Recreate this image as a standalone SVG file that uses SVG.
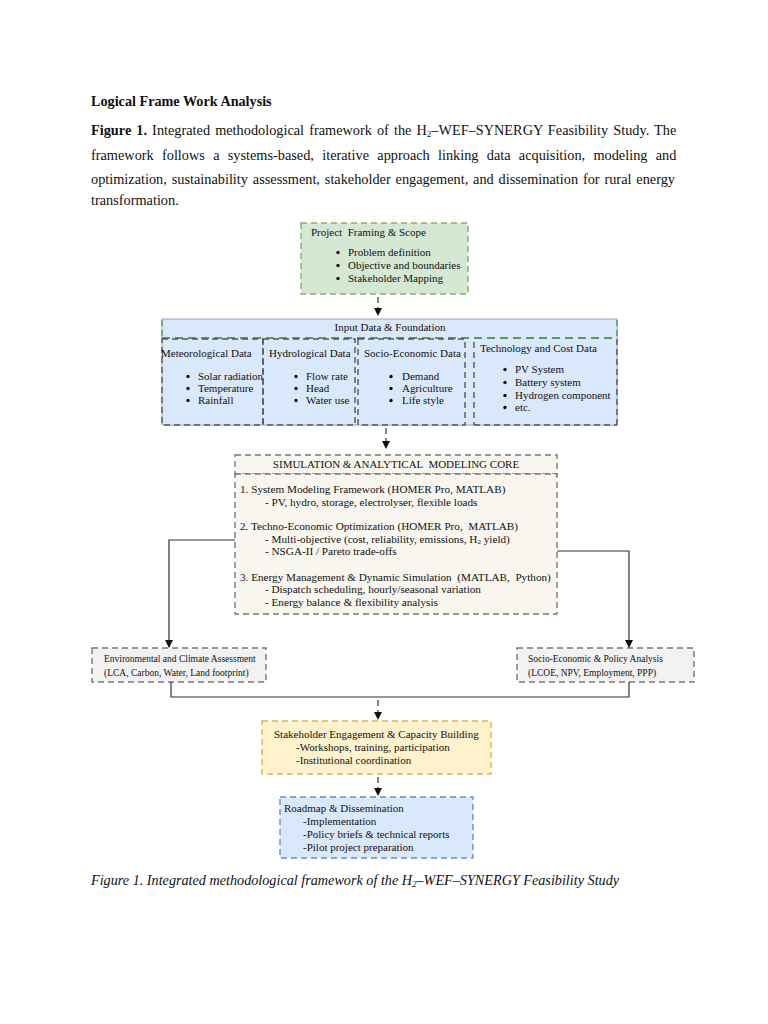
<svg xmlns="http://www.w3.org/2000/svg" width="768" height="1024" viewBox="0 0 768 1024">
<style>
text{font-family:"Liberation Serif","Times New Roman",serif;fill:#111}
.p{font-size:14.3px}
.t{font-size:11px}
.m{font-size:11.2px}
.s{font-size:9.5px}
.bu{fill:#111}
.dash{stroke-dasharray:6 4;stroke-width:1.4}
.g{fill:#d5e8d4;stroke:#82b366}
.b{fill:#dae8fc;stroke:#6c8ebf}
.sub{fill:none;stroke:#555}
.core{fill:#f8f6ee;stroke:#777}
.gray{fill:#f2f2f2;stroke:#777}
.y{fill:#fff2cc;stroke:#d6b656}
.c{fill:none;stroke:#333;stroke-width:1.2}
.cd{fill:none;stroke:#333;stroke-width:1.2;stroke-dasharray:6 4}
</style>
<defs>
<marker id="ah" markerWidth="8" markerHeight="8" refX="7" refY="4" orient="auto" markerUnits="userSpaceOnUse">
<path d="M0,0 L8,4 L0,8 Z" fill="#111"/>
</marker>
</defs>
<rect width="768" height="1024" fill="#fff"/>

<g id="header-text">
<text x="91" y="106" style="font-size:14.2px;font-weight:bold">Logical Frame Work Analysis</text>
<text class="p" x="91" y="135" style="word-spacing:1.5px"><tspan font-weight="bold">Figure 1.</tspan> Integrated methodological framework of the H<tspan font-size="9" dy="2">2</tspan><tspan dy="-2">–WEF–SYNERGY Feasibility Study. The</tspan></text>
<text class="p" x="91" y="160" style="word-spacing:4.7px">framework follows a systems-based, iterative approach linking data acquisition, modeling and</text>
<text class="p" x="91" y="184" style="word-spacing:1.3px">optimization, sustainability assessment, stakeholder engagement, and dissemination for rural energy</text>
<text class="p" x="91" y="205">transformation.</text>
</g>

<g id="project-framing">
<rect class="g dash" x="301" y="223" width="167" height="71"/>
<text class="t" x="311" y="236" xml:space="preserve">Project  Framing &amp; Scope</text>
<circle class="bu" cx="338" cy="252.5" r="1.7"/><text class="t" x="348" y="256">Problem definition</text>
<circle class="bu" cx="338" cy="265.5" r="1.7"/><text class="t" x="348" y="269">Objective and boundaries</text>
<circle class="bu" cx="338" cy="278.5" r="1.7"/><text class="t" x="348" y="282">Stakeholder Mapping</text>
</g>

<g id="input-data">
<rect x="162" y="319" width="455" height="106" fill="#dae8fc" stroke="#8ea9c8" stroke-width="1"/>
<line x1="162" y1="338" x2="617" y2="338" stroke="#5b9a55" stroke-width="2" stroke-dasharray="8 5"/>
<line x1="162" y1="320" x2="162" y2="337" stroke="#5b9a55" stroke-width="1.5" stroke-dasharray="6 4"/>
<line x1="617" y1="320" x2="617" y2="337" stroke="#5b9a55" stroke-width="1.5" stroke-dasharray="6 4"/>
<text class="t" x="390" y="331" text-anchor="middle">Input Data &amp; Foundation</text>
<g id="meteorological">
<rect class="sub dash" x="162" y="339" width="101" height="86"/>
<text class="t" x="161" y="357">Meteorological Data</text>
<circle class="bu" cx="188" cy="376.5" r="1.7"/><text class="t" x="198" y="380">Solar radiation</text>
<circle class="bu" cx="188" cy="388.5" r="1.7"/><text class="t" x="198" y="392">Temperature</text>
<circle class="bu" cx="188" cy="400.5" r="1.7"/><text class="t" x="198" y="404">Rainfall</text>
</g>
<g id="hydrological">
<rect class="sub dash" x="263" y="339" width="92" height="86"/>
<text class="t" x="269" y="357">Hydrological Data</text>
<circle class="bu" cx="296" cy="376.5" r="1.7"/><text class="t" x="306" y="380">Flow rate</text>
<circle class="bu" cx="296" cy="388.5" r="1.7"/><text class="t" x="306" y="392">Head</text>
<circle class="bu" cx="296" cy="400.5" r="1.7"/><text class="t" x="306" y="404">Water use</text>
</g>
<g id="socio-economic-data">
<rect class="sub dash" x="358" y="339" width="107" height="86"/>
<text class="t" x="364" y="357">Socio-Economic Data</text>
<circle class="bu" cx="391" cy="376.5" r="1.7"/><text class="t" x="402" y="380">Demand</text>
<circle class="bu" cx="391" cy="388.5" r="1.7"/><text class="t" x="402" y="392">Agriculture</text>
<circle class="bu" cx="391" cy="400.5" r="1.7"/><text class="t" x="402" y="404">Life style</text>
</g>
<g id="technology-cost">
<line class="sub dash" x1="474" y1="342" x2="474" y2="425"/>
<line class="sub dash" x1="474" y1="425" x2="617" y2="425"/>
<line class="sub dash" x1="617" y1="339" x2="617" y2="425"/>
<text class="t" x="480" y="352">Technology and Cost Data</text>
<circle class="bu" cx="505" cy="369.5" r="1.7"/><text class="t" x="515" y="373">PV System</text>
<circle class="bu" cx="505" cy="382.5" r="1.7"/><text class="t" x="515" y="386">Battery system</text>
<circle class="bu" cx="505" cy="395.5" r="1.7"/><text class="t" x="515" y="399">Hydrogen component</text>
<circle class="bu" cx="505" cy="407.5" r="1.7"/><text class="t" x="515" y="411">etc.</text>
</g>
</g>

<g id="simulation-core">
<rect class="core dash" x="235" y="455" width="322" height="19"/>
<text class="t" x="396" y="468" text-anchor="middle" xml:space="preserve">SIMULATION &amp; ANALYTICAL  MODELING CORE</text>
<rect class="core dash" x="235" y="474" width="322" height="140"/>
<text class="m" x="240" y="493">1. System Modeling Framework (HOMER Pro, MATLAB)</text>
<text class="m" x="265" y="506">- PV, hydro, storage, electrolyser, flexible loads</text>
<text class="m" x="240" y="530" xml:space="preserve">2. Techno-Economic Optimization (HOMER Pro,  MATLAB)</text>
<text class="m" x="265" y="543">- Multi-objective (cost, reliability, emissions, H<tspan font-size="7" dy="1">2</tspan><tspan dy="-1"> yield)</tspan></text>
<text class="m" x="265" y="555">- NSGA-II / Pareto trade-offs</text>
<text class="m" x="240" y="581" xml:space="preserve">3. Energy Management &amp; Dynamic Simulation  (MATLAB,  Python)</text>
<text class="m" x="265" y="593">- Dispatch scheduling, hourly/seasonal variation</text>
<text class="m" x="265" y="606">- Energy balance &amp; flexibility analysis</text>
</g>

<g id="environmental">
<rect class="gray dash" x="92" y="648" width="174" height="34"/>
<text class="s" x="104" y="662">Environmental and Climate Assessment</text>
<text class="s" x="104" y="676">(LCA, Carbon, Water, Land footprint)</text>
</g>

<g id="socio-policy">
<rect class="gray dash" x="517" y="648" width="177" height="34"/>
<text class="s" x="528" y="662">Socio-Economic &amp; Policy Analysis</text>
<text class="s" x="528" y="676">(LCOE, NPV, Employment, PPP)</text>
</g>

<g id="stakeholder">
<rect class="y dash" x="262" y="721" width="229" height="53"/>
<text class="t" x="274" y="738">Stakeholder Engagement &amp; Capacity Building</text>
<text class="t" x="296" y="751">-Workshops, training, participation</text>
<text class="t" x="296" y="764">-Institutional coordination</text>
</g>

<g id="roadmap">
<rect class="b dash" x="280" y="797" width="193" height="61"/>
<text class="t" x="284" y="812">Roadmap &amp; Dissemination</text>
<text class="t" x="303" y="825">-Implementation</text>
<text class="t" x="303" y="838">-Policy briefs &amp; technical reports</text>
<text class="t" x="303" y="851">-Pilot project preparation</text>
</g>

<g id="connectors">
<path class="cd" d="M378,297 V315" marker-end="url(#ah)"/>
<path class="cd" d="M386,428 V448" marker-end="url(#ah)"/>
<path class="c" d="M235,540 H169 V647" marker-end="url(#ah)"/>
<path class="c" d="M557,551 H629 V647" marker-end="url(#ah)"/>
<path class="c" d="M171,682 V697 H629 V682"/>
<path class="cd" d="M378,700 V719" marker-end="url(#ah)"/>
<path class="cd" d="M378,777 V795" marker-end="url(#ah)"/>
</g>

<g id="caption">
<text x="91" y="885" style="font-size:14.2px;font-style:italic">Figure 1. Integrated methodological framework of the H<tspan font-size="9" dy="2">2</tspan><tspan dy="-2">–WEF–SYNERGY Feasibility Study</tspan></text>
</g>
</svg>
